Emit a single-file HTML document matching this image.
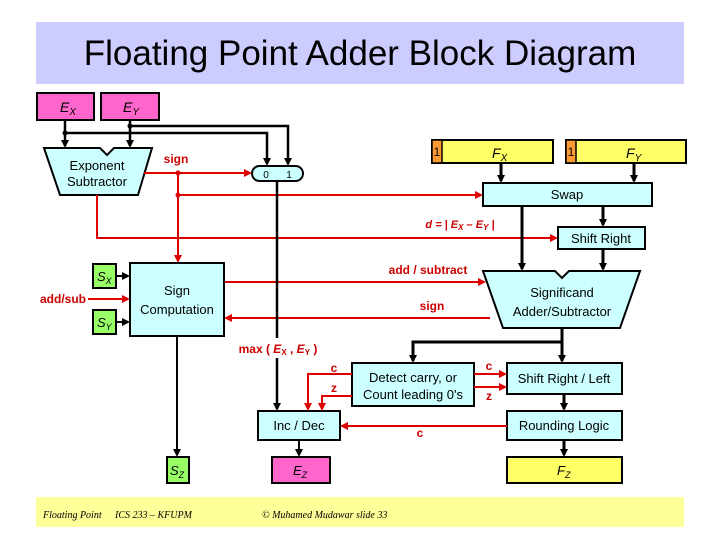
<!DOCTYPE html>
<html><head><meta charset="utf-8"><style>
body{margin:0;background:#fff}
svg{display:block;font-family:"Liberation Sans",sans-serif}
</style></head><body>
<svg width="720" height="540" viewBox="0 0 720 540" xmlns="http://www.w3.org/2000/svg">
<defs>
<marker id="ab" markerWidth="8" markerHeight="8" refX="6" refY="4" orient="auto" markerUnits="userSpaceOnUse"><path d="M0,0 L8,4 L0,8 z" fill="#000"/></marker>
<marker id="ar" markerWidth="8" markerHeight="8" refX="6" refY="4" orient="auto" markerUnits="userSpaceOnUse"><path d="M0,0 L8,4 L0,8 z" fill="#d00"/></marker>
</defs>
<rect x="36" y="22" width="648" height="62" fill="#ccccff"/>
<text x="360" y="65" font-size="35" text-anchor="middle" fill="#000">Floating Point Adder Block Diagram</text>

<rect x="37" y="93" width="57" height="27" fill="#ff66cc" stroke="#000" stroke-width="2"/>
<text x="60" y="112" font-size="14" font-style="italic">E<tspan font-size="10" dy="3">X</tspan></text>
<rect x="101" y="93" width="58" height="27" fill="#ff66cc" stroke="#000" stroke-width="2"/>
<text x="123" y="112" font-size="14" font-style="italic">E<tspan font-size="10" dy="3">Y</tspan></text>

<g stroke="#000" stroke-width="2.5" fill="none">
<line x1="65" y1="120" x2="65" y2="146" marker-end="url(#ab)"/>
<line x1="130" y1="120" x2="130" y2="146" marker-end="url(#ab)"/>
<polyline points="65,133 267,133 267,164" marker-end="url(#ab)"/>
<polyline points="130,126 288,126 288,164" marker-end="url(#ab)"/>
</g>
<circle cx="65" cy="133" r="2.5"/><circle cx="130" cy="126" r="2.5"/>

<path d="M44,148 L100,148 L107,155 L114,148 L152,148 L138,195 L60,195 Z" fill="#ccffff" stroke="#000" stroke-width="2"/>
<text x="97" y="170" font-size="13" text-anchor="middle">Exponent</text>
<text x="97" y="186" font-size="13" text-anchor="middle">Subtractor</text>

<rect x="252" y="166" width="51" height="15" rx="7.5" fill="#ccffff" stroke="#000" stroke-width="2"/>
<text x="266" y="178" font-size="10" text-anchor="middle">0</text>
<text x="289" y="178" font-size="10" text-anchor="middle">1</text>

<g stroke="#d00" stroke-width="2" fill="none">
<line x1="144" y1="173" x2="250" y2="173" marker-end="url(#ar)"/>
<line x1="178" y1="173" x2="178" y2="261" marker-end="url(#ar)"/>
<line x1="178" y1="195" x2="481" y2="195" marker-end="url(#ar)"/>
<polyline points="97,195 97,238 556,238" marker-end="url(#ar)"/>
<line x1="224" y1="282" x2="484" y2="282" marker-end="url(#ar)"/>
<line x1="490" y1="318" x2="226" y2="318" marker-end="url(#ar)"/>
<line x1="88" y1="299" x2="128" y2="299" marker-end="url(#ar)"/>
</g>
<circle cx="178" cy="173" r="2.5" fill="#d00"/><circle cx="178" cy="195" r="2.5" fill="#d00"/>
<text x="176" y="163" font-size="12" font-weight="bold" fill="#c00" text-anchor="middle">sign</text>
<text x="460" y="228" font-size="11" font-weight="bold" fill="#c00" text-anchor="middle" font-style="italic">d = | E<tspan font-size="8" dy="2">X</tspan><tspan dy="-2"> – E</tspan><tspan font-size="8" dy="2">Y</tspan><tspan dy="-2"> |</tspan></text>
<text x="428" y="274" font-size="12" font-weight="bold" fill="#c00" text-anchor="middle">add / subtract</text>
<text x="432" y="310" font-size="12" font-weight="bold" fill="#c00" text-anchor="middle">sign</text>
<text x="40" y="303" font-size="12" font-weight="bold" fill="#c00">add/sub</text>

<line x1="277" y1="181" x2="277" y2="338" stroke="#000" stroke-width="2.5"/>
<line x1="277" y1="358" x2="277" y2="409" stroke="#000" stroke-width="2.5" marker-end="url(#ab)"/>
<text x="278" y="353" font-size="12" font-weight="bold" fill="#c00" text-anchor="middle">max ( <tspan font-style="italic">E</tspan><tspan font-size="8" dy="2">X</tspan><tspan dy="-2"> , </tspan><tspan font-style="italic">E</tspan><tspan font-size="8" dy="2">Y</tspan><tspan dy="-2"> )</tspan></text>

<rect x="432" y="140" width="121" height="23" fill="#ffff66" stroke="#000" stroke-width="2"/>
<rect x="432" y="140" width="10" height="23" fill="#ff9933" stroke="#000" stroke-width="1.5"/>
<text x="437" y="156" font-size="12" text-anchor="middle">1</text>
<text x="492" y="158" font-size="14" font-style="italic">F<tspan font-size="10" dy="3">X</tspan></text>
<rect x="566" y="140" width="120" height="23" fill="#ffff66" stroke="#000" stroke-width="2"/>
<rect x="566" y="140" width="10" height="23" fill="#ff9933" stroke="#000" stroke-width="1.5"/>
<text x="571" y="156" font-size="12" text-anchor="middle">1</text>
<text x="626" y="158" font-size="14" font-style="italic">F<tspan font-size="10" dy="3">Y</tspan></text>

<g stroke="#000" stroke-width="3" fill="none">
<line x1="501" y1="163" x2="501" y2="181" marker-end="url(#ab)"/>
<line x1="634" y1="163" x2="634" y2="181" marker-end="url(#ab)"/>
<line x1="522" y1="206" x2="522" y2="269" marker-end="url(#ab)"/>
<line x1="603" y1="206" x2="603" y2="225" marker-end="url(#ab)"/>
<line x1="603" y1="249" x2="603" y2="269" marker-end="url(#ab)"/>
<polyline points="562,328 562,342 413,342 413,361" marker-end="url(#ab)"/>
<line x1="562" y1="342" x2="562" y2="361" marker-end="url(#ab)"/>
<line x1="564" y1="394" x2="564" y2="409" marker-end="url(#ab)"/>
<line x1="564" y1="440" x2="564" y2="455" marker-end="url(#ab)"/>
</g>
<rect x="483" y="183" width="169" height="23" fill="#ccffff" stroke="#000" stroke-width="2"/>
<text x="567" y="199" font-size="13" text-anchor="middle">Swap</text>
<rect x="558" y="227" width="87" height="22" fill="#ccffff" stroke="#000" stroke-width="2"/>
<text x="601" y="243" font-size="13" text-anchor="middle">Shift Right</text>
<path d="M483,271 L555,271 L562,278 L569,271 L640,271 L620,328 L503,328 Z" fill="#ccffff" stroke="#000" stroke-width="2"/>
<text x="562" y="297" font-size="13" text-anchor="middle">Significand</text>
<text x="562" y="316" font-size="13" text-anchor="middle">Adder/Subtractor</text>

<rect x="130" y="263" width="94" height="73" fill="#ccffff" stroke="#000" stroke-width="2"/>
<text x="177" y="295" font-size="13" text-anchor="middle">Sign</text>
<text x="177" y="314" font-size="13" text-anchor="middle">Computation</text>
<rect x="93" y="264" width="23" height="24" fill="#99ff66" stroke="#000" stroke-width="2"/>
<text x="97" y="281" font-size="13" font-style="italic">S<tspan font-size="9" dy="3">X</tspan></text>
<rect x="93" y="310" width="23" height="24" fill="#99ff66" stroke="#000" stroke-width="2"/>
<text x="97" y="327" font-size="13" font-style="italic">S<tspan font-size="9" dy="3">Y</tspan></text>
<g stroke="#000" stroke-width="2" fill="none">
<line x1="116" y1="276" x2="128" y2="276" marker-end="url(#ab)"/>
<line x1="116" y1="322" x2="128" y2="322" marker-end="url(#ab)"/>
<line x1="177" y1="336" x2="177" y2="455" marker-end="url(#ab)"/>
<line x1="299" y1="440" x2="299" y2="455" marker-end="url(#ab)"/>
</g>
<rect x="167" y="457" width="22" height="26" fill="#99ff66" stroke="#000" stroke-width="2"/>
<text x="170" y="475" font-size="13" font-style="italic">S<tspan font-size="9" dy="3">Z</tspan></text>

<rect x="258" y="411" width="82" height="29" fill="#ccffff" stroke="#000" stroke-width="2"/>
<text x="299" y="430" font-size="13" text-anchor="middle">Inc / Dec</text>
<rect x="272" y="457" width="58" height="26" fill="#ff66cc" stroke="#000" stroke-width="2"/>
<text x="293" y="475" font-size="13" font-style="italic">E<tspan font-size="9" dy="3">Z</tspan></text>
<rect x="352" y="363" width="122" height="43" fill="#ccffff" stroke="#000" stroke-width="2"/>
<text x="413" y="382" font-size="13" text-anchor="middle">Detect carry, or</text>
<text x="413" y="399" font-size="13" text-anchor="middle">Count leading 0's</text>
<rect x="507" y="363" width="115" height="31" fill="#ccffff" stroke="#000" stroke-width="2"/>
<text x="564" y="383" font-size="13" text-anchor="middle">Shift Right / Left</text>
<rect x="507" y="411" width="115" height="29" fill="#ccffff" stroke="#000" stroke-width="2"/>
<text x="564" y="430" font-size="13" text-anchor="middle">Rounding Logic</text>
<rect x="507" y="457" width="115" height="26" fill="#ffff66" stroke="#000" stroke-width="2"/>
<text x="557" y="475" font-size="13" font-style="italic">F<tspan font-size="9" dy="3">Z</tspan></text>

<g stroke="#d00" stroke-width="2" fill="none">
<polyline points="352,374 308,374 308,409" marker-end="url(#ar)"/>
<polyline points="352,396 322,396 322,409" marker-end="url(#ar)"/>
<line x1="474" y1="374" x2="505" y2="374" marker-end="url(#ar)"/>
<line x1="474" y1="387" x2="505" y2="387" marker-end="url(#ar)"/>
<line x1="507" y1="426" x2="342" y2="426" marker-end="url(#ar)"/>
</g>
<g font-size="12" font-weight="bold" fill="#c00" text-anchor="middle">
<text x="334" y="372">c</text><text x="334" y="392">z</text>
<text x="489" y="370">c</text><text x="489" y="400">z</text>
<text x="420" y="437">c</text>
</g>

<rect x="36" y="497" width="648" height="30" fill="#ffff99"/>
<g font-family="Liberation Serif,serif" font-style="italic" font-size="10">
<text x="43" y="518">Floating Point</text>
<text x="115" y="518">ICS 233 – KFUPM</text>
<text x="262" y="518">© Muhamed Mudawar  slide 33</text>
</g>
</svg>
</body></html>
